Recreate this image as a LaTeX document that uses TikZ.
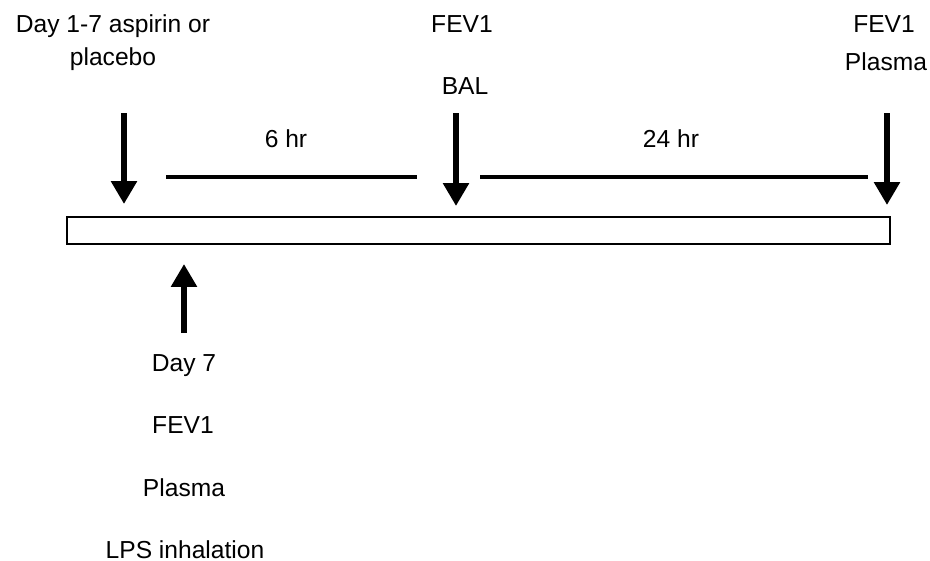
\documentclass[tikz,border=0pt]{standalone}
\usepackage{fontspec}
\setmainfont{Liberation Sans}
\usetikzlibrary{arrows, arrows.meta}

\tikzset{
    lbl/.style={inner sep=0pt, anchor=base, font=\fontsize{14}{17}\selectfont},
    mark arrow/.style={line width=3.4pt, -{Triangle[width=0.5cm, length=0.46cm]}},
    span/.style={line width=2.8pt}
}

\begin{document}
\begin{tikzpicture}[x=0.02cm, y=-0.02cm]
    \useasboundingbox (0,0) rectangle (930,561);

    \node[lbl] (aspirin) at (113,32) {Day 1-7 aspirin or};
    \node[lbl] (placebo) at (113,65) {placebo};
    \node[lbl] (fevmid) at (462,32) {FEV1};
    \node[lbl] (bal) at (465,94) {BAL};
    \node[lbl] (fevend) at (884,32) {FEV1};
    \node[lbl] (plasmaend) at (886,71) {Plasma};
    \node[lbl] (six) at (286,147) {6 hr};
    \node[lbl] (twentyfour) at (671,147) {24 hr};

    \node[lbl] (day7) at (184,371) {Day 7};
    \node[lbl] (fevlps) at (183,433) {FEV1};
    \node[lbl] (plasmalps) at (184,496) {Plasma};
    \node[lbl] (lps) at (185,558) {LPS inhalation};

    \node[draw, line width=1pt, inner sep=0pt, minimum width=823*0.02cm, minimum height=27*0.02cm] (bar) at (478.5,230.5) {};

    \coordinate (a1s) at (124,113);
    \coordinate (a1e) at (124,204);
    \coordinate (a2s) at (456,113);
    \coordinate (a2e) at (456,206);
    \coordinate (a3s) at (887,113);
    \coordinate (a3e) at (887,205);
    \coordinate (a4s) at (184,333);
    \coordinate (a4e) at (184,264);
    \coordinate (s1a) at (166,177);
    \coordinate (s1b) at (417,177);
    \coordinate (s2a) at (480,177);
    \coordinate (s2b) at (868,177);

    \draw[mark arrow] (a1s) -- (a1e);
    \draw[mark arrow] (a2s) -- (a2e);
    \draw[mark arrow] (a3s) -- (a3e);
    \draw[mark arrow] (a4s) -- (a4e);
    \draw[span] (s1a) -- (s1b);
    \draw[span] (s2a) -- (s2b);
\end{tikzpicture}
\end{document}
